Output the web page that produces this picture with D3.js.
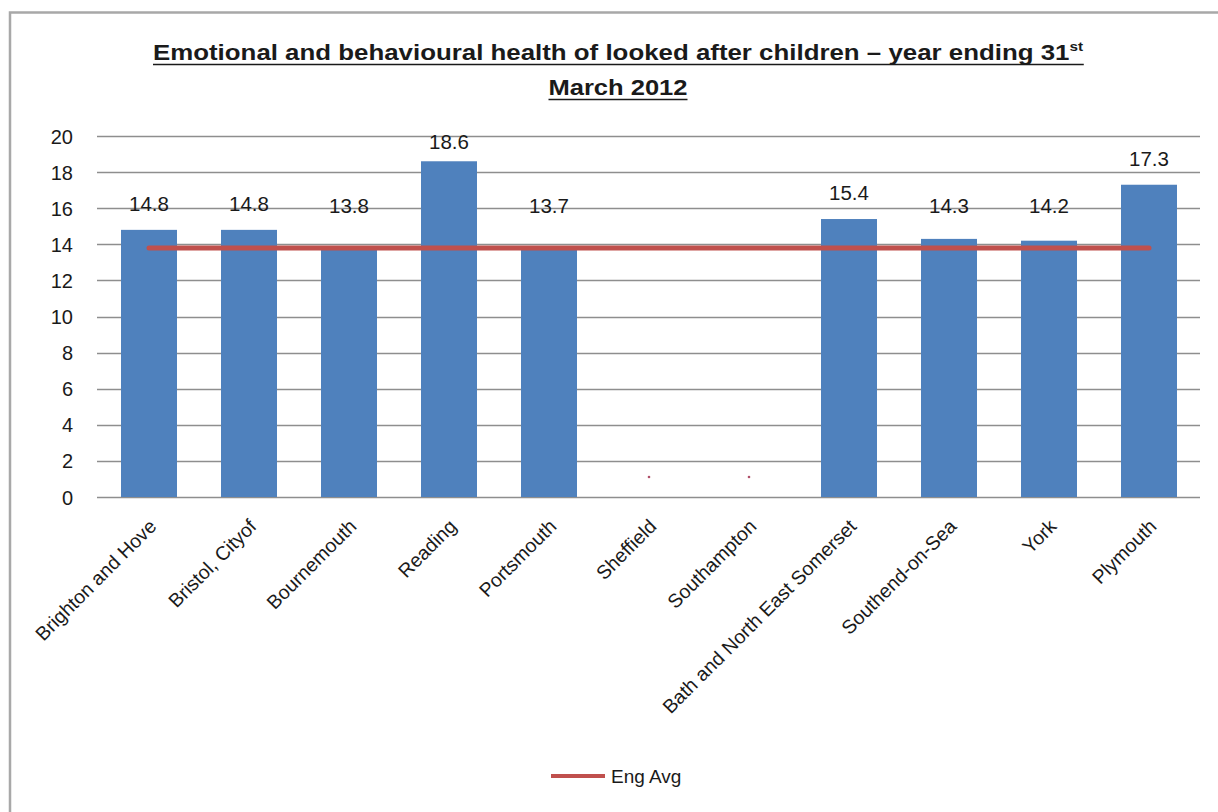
<!DOCTYPE html>
<html>
<head>
<meta charset="utf-8">
<script src="https://cdn.jsdelivr.net/npm/d3@7"></script>
<style>
  html, body { margin: 0; padding: 0; background: #fff; }
  svg { display: block; }
  text { font-family: "Liberation Sans", Arial, sans-serif; }
</style>
</head>
<body>
<svg id="chart" width="1218" height="812"></svg>
<script>
// Local authorities shown on the category axis
const categories = [
  "Brighton and Hove", "Bristol, Cityof", "Bournemouth", "Reading", "Portsmouth",
  "Sheffield", "Southampton", "Bath and North East Somerset", "Southend-on-Sea",
  "York", "Plymouth"
];
// Average score per authority (null = no figure published)
const scores = [14.8, 14.8, 13.8, 18.6, 13.7, null, null, 15.4, 14.3, 14.2, 17.3];
// England average, drawn as a flat line across all authorities
const engAvg = [13.8, 13.8, 13.8, 13.8, 13.8, 13.8, 13.8, 13.8, 13.8, 13.8, 13.8];
const yTicks = [0, 2, 4, 6, 8, 10, 12, 14, 16, 18, 20];
const titleLine1 = "Emotional and behavioural health of looked after children \u2013 year ending 31";
const titleSup = "st";
const titleLine2 = "March 2012";
const legendLabel = "Eng Avg";

const BAR = "#4F81BD";
const LINE = "#C0504D";
const GRID = "#8e8e8e";
const TEXT = "#1a1a1a";

const svg = d3.select("#chart");

// Chart frame
svg.append("rect")
  .attr("x", 10).attr("y", 12.5)
  .attr("width", 1230).attr("height", 820)
  .attr("fill", "#fff")
  .attr("stroke", "#a8a8a8").attr("stroke-width", 2.5);

const x = d3.scaleBand()
  .domain(categories)
  .range([99, 1199])
  .paddingInner(0.44)
  .paddingOuter(0.22);

const y = d3.scaleLinear().domain([0, 20]).range([497, 136]);

// Horizontal gridlines
svg.append("g")
  .selectAll("line")
  .data(yTicks)
  .join("line")
  .attr("x1", 97).attr("x2", 1200)
  .attr("y1", d => Math.round(y(d)) + 0.5)
  .attr("y2", d => Math.round(y(d)) + 0.5)
  .attr("stroke", GRID)
  .attr("stroke-width", 1.6);

// Value axis labels
const yAxis = d3.axisLeft(y).tickValues(yTicks).tickSize(0).tickPadding(0);
const gy = svg.append("g").attr("transform", "translate(73,0)").call(yAxis);
gy.select(".domain").remove();
gy.selectAll("text")
  .attr("font-size", 20)
  .attr("fill", TEXT)
  .attr("dy", "0.35em")
  .style("font-family", "'Liberation Sans', Arial, sans-serif");

// Bars
const rows = categories.map((c, i) => ({ c, v: scores[i], avg: engAvg[i] }));
svg.append("g")
  .selectAll("rect")
  .data(rows.filter(d => d.v !== null))
  .join("rect")
  .attr("x", d => x(d.c))
  .attr("width", x.bandwidth())
  .attr("y", d => y(d.v))
  .attr("height", d => y(0) - y(d.v))
  .attr("fill", BAR);

// England average line
const line = d3.line()
  .x(d => x(d.c) + x.bandwidth() / 2)
  .y(d => y(d.avg));
svg.append("path")
  .datum(rows)
  .attr("d", line)
  .attr("fill", "none")
  .attr("stroke", LINE)
  .attr("stroke-width", 5)
  .attr("stroke-linecap", "round");

// Data labels: sit above the bar, never below the 14.7 level and never above the plot top
const labelCenter = v => Math.max(y(Math.max(v, 14.7)) - 26, 142);
svg.append("g")
  .selectAll("text")
  .data(rows.filter(d => d.v !== null))
  .join("text")
  .attr("x", d => x(d.c) + x.bandwidth() / 2)
  .attr("y", d => labelCenter(d.v))
  .attr("dy", "0.35em")
  .attr("text-anchor", "middle")
  .attr("font-size", 20.5)
  .attr("fill", TEXT)
  .text(d => d.v.toFixed(1));

// Missing values leave only a tiny marker where the label would go
svg.append("g")
  .selectAll("circle")
  .data(rows.filter(d => d.v === null))
  .join("circle")
  .attr("cx", d => x(d.c) + x.bandwidth() / 2)
  .attr("cy", y(0) - 20)
  .attr("r", 1.3)
  .attr("fill", "#b0506a");

// Category labels, rotated 45 degrees
svg.append("g")
  .selectAll("text")
  .data(categories)
  .join("text")
  .attr("transform", d => `translate(${x(d) + x.bandwidth() / 2 - 1},${518}) rotate(-45)`)
  .attr("text-anchor", "end")
  .attr("dy", "0.7em")
  .attr("font-size", 19.5)
  .attr("fill", TEXT)
  .text(d => d);

// Title
const title = svg.append("text")
  .attr("x", 153).attr("y", 60)
  .attr("font-size", 22)
  .attr("font-weight", "bold")
  .attr("fill", TEXT);
title.append("tspan").text(titleLine1);
title.append("tspan")
  .attr("font-size", 13)
  .attr("dy", -9)
  .text(titleSup);
title.attr("textLength", 930).attr("lengthAdjust", "spacingAndGlyphs");

const title2 = svg.append("text")
  .attr("x", 618).attr("y", 95)
  .attr("text-anchor", "middle")
  .attr("font-size", 22)
  .attr("font-weight", "bold")
  .attr("fill", TEXT)
  .text(titleLine2);
title2.attr("textLength", 139).attr("lengthAdjust", "spacingAndGlyphs");

// Underlines beneath both title lines
[[title, 64.5], [title2, 99.5]].forEach(([t, ly]) => {
  const b = t.node().getBBox();
  svg.append("line")
    .attr("x1", b.x).attr("x2", b.x + b.width)
    .attr("y1", ly).attr("y2", ly)
    .attr("stroke", TEXT).attr("stroke-width", 1.6);
});

// Legend
const lg = svg.append("g");
lg.append("line")
  .attr("x1", 551).attr("x2", 605)
  .attr("y1", 776).attr("y2", 776)
  .attr("stroke", LINE).attr("stroke-width", 4);
lg.append("text")
  .attr("x", 611).attr("y", 776)
  .attr("dy", "0.35em")
  .attr("font-size", 19)
  .attr("fill", TEXT)
  .text(legendLabel);
</script>
</body>
</html>
